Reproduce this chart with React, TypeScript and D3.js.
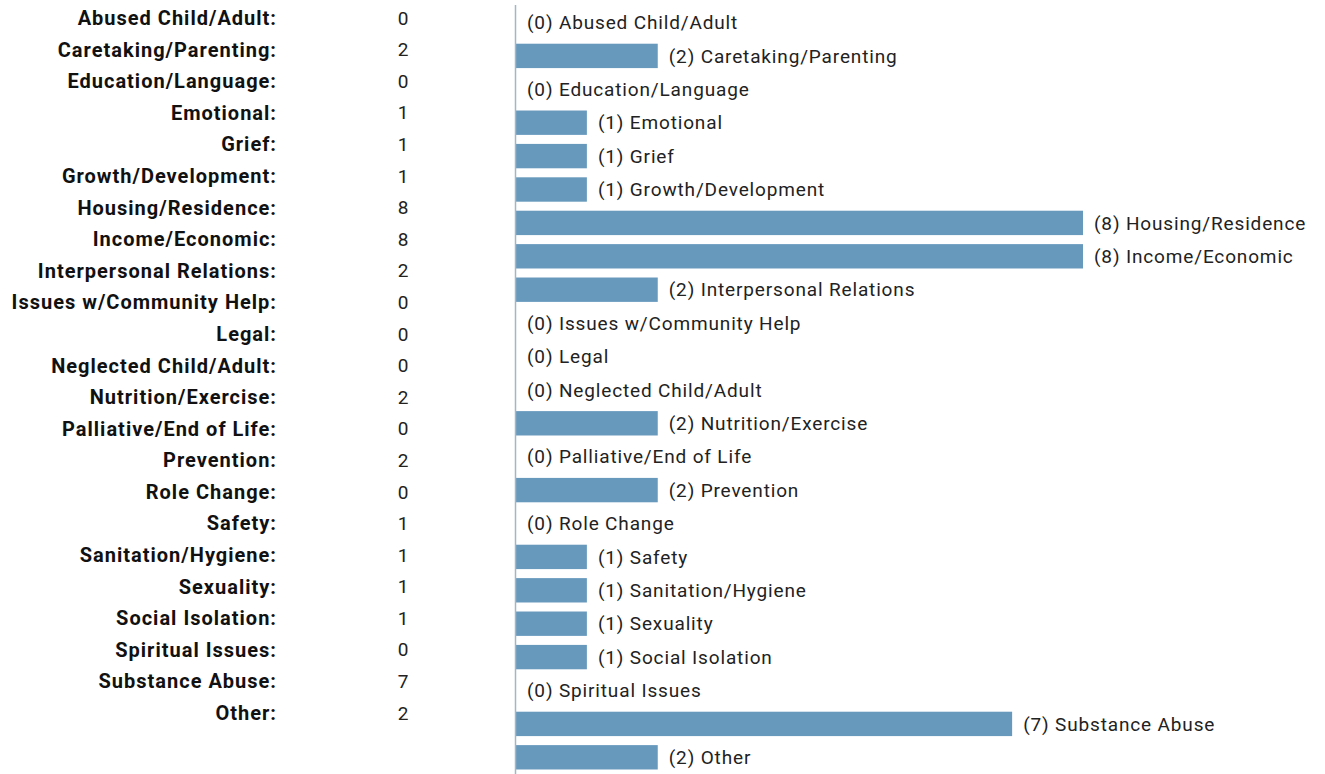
import React from "react";
import * as d3 from "d3";

// categories and counts
const categories = [
  "Abused Child/Adult",
  "Caretaking/Parenting",
  "Education/Language",
  "Emotional",
  "Grief",
  "Growth/Development",
  "Housing/Residence",
  "Income/Economic",
  "Interpersonal Relations",
  "Issues w/Community Help",
  "Legal",
  "Neglected Child/Adult",
  "Nutrition/Exercise",
  "Palliative/End of Life",
  "Prevention",
  "Role Change",
  "Safety",
  "Sanitation/Hygiene",
  "Sexuality",
  "Social Isolation",
  "Spiritual Issues",
  "Substance Abuse",
  "Other",
];
const counts = [0, 2, 0, 1, 1, 1, 8, 8, 2, 0, 0, 0, 2, 0, 2, 0, 1, 1, 1, 1, 0, 7, 2];

const W = 1325;
const H = 774;
const FONT = "Roboto, 'Noto Sans', sans-serif";

export default function App() {
  // left table rows
  const tableY = d3
    .scalePoint<string>()
    .domain(categories)
    .range([18, 713]);

  // bar chart
  const x = d3.scaleLinear().domain([0, 8]).range([516, 1083]);
  const y = d3
    .scaleBand<string>()
    .domain(categories)
    .range([5.8, 774])
    .paddingInner(0.27)
    .paddingOuter(0.135);

  return (
    <div style={{ position: "absolute", left: 0, top: 0 }}>
      <svg width={W} height={H} style={{ display: "block", background: "#fff" }}>
        {/* summary table */}
        <g fontFamily={FONT}>
          {categories.map((c, i) => (
            <g key={c} transform={`translate(0,${tableY(c)})`}>
              <text
                x={277}
                textAnchor="end"
                dy="0.35em"
                fontWeight="bold"
                fontSize={20}
                fill="#111"
                letterSpacing={1}
              >
                {c}:
              </text>
              <text x={408.5} textAnchor="end" dy="0.35em" fill="#222" fontSize={19}>
                {counts[i]}
              </text>
            </g>
          ))}
        </g>

        {/* bars */}
        <g>
          {categories.map((c, i) => (
            <rect
              key={c}
              x={x(0)}
              y={y(c)}
              width={x(counts[i]) - x(0)}
              height={y.bandwidth()}
              fill="#6799bd"
            />
          ))}
        </g>
        <line x1={515.5} x2={515.5} y1={5} y2={H} stroke="#a3b6c8" strokeWidth={1.5} />
        <g fontFamily={FONT} fontSize={19} fill="#222" letterSpacing={0.85}>
          {categories.map((c, i) => (
            <text
              key={c}
              x={x(counts[i]) + 11}
              y={(y(c) ?? 0) + y.bandwidth() / 2}
              dy="0.35em"
            >
              ({counts[i]}) {c}
            </text>
          ))}
        </g>
      </svg>
    </div>
  );
}
